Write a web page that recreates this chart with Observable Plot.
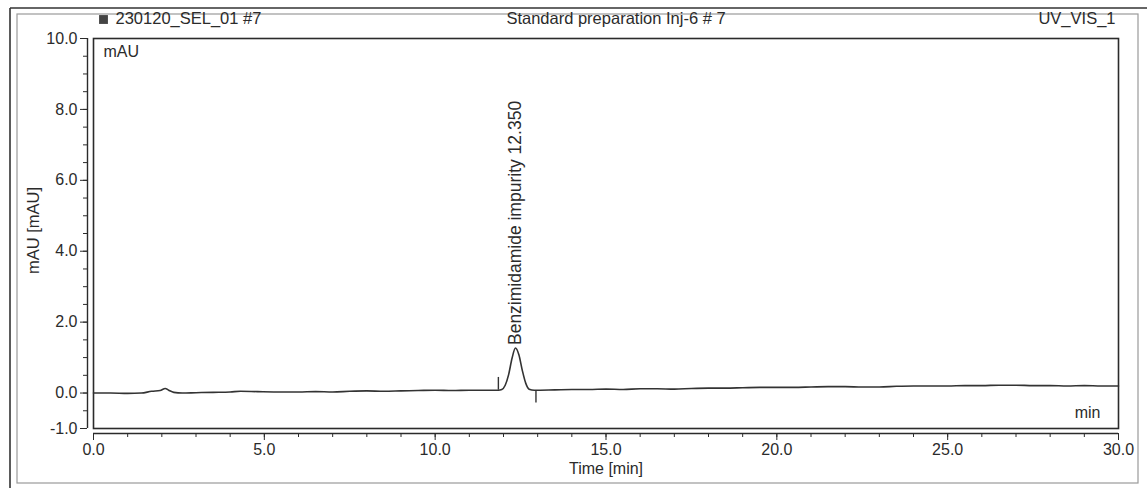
<!DOCTYPE html>
<html><head><meta charset="utf-8">
<script src="https://cdn.jsdelivr.net/npm/d3@7"></script>
<script src="https://cdn.jsdelivr.net/npm/@observablehq/plot@0.6"></script>
<style>html,body{margin:0;padding:0;background:#fff}#chart svg{display:block}</style>
</head><body><div id="chart"></div>
<script>
// ---- data ----
const headerLeft = "230120_SEL_01 #7";
const headerCenter = "Standard preparation Inj-6 # 7";
const headerRight = "UV_VIS_1";
const yLabel = "mAU [mAU]";
const xLabel = "Time [min]";
const yUnit = "mAU";
const xUnit = "min";

const times = [0.0,0.5,1.0,1.4,1.7,1.95,2.1,2.2,2.35,2.6,3.0,3.5,4.0,4.3,4.8,5.5,6.0,6.5,7.0,7.5,8.0,8.5,9.0,9.5,10.0,10.5,11.0,11.5,11.85,11.95,12.05,12.15,12.25,12.35,12.45,12.55,12.65,12.75,12.9,13.5,14.0,14.5,15.0,15.5,16.0,16.5,17.0,17.5,18.0,18.5,19.0,19.5,20.0,20.5,21.0,21.5,22.0,22.5,23.0,23.5,24.0,24.5,25.0,25.5,26.0,26.5,27.0,27.5,28.0,28.5,29.0,29.5,30.0];
const signal = [0.00,0.00,-0.01,0.00,0.05,0.07,0.13,0.08,0.02,0.00,0.01,0.02,0.03,0.05,0.04,0.03,0.03,0.04,0.03,0.05,0.06,0.05,0.06,0.07,0.08,0.07,0.08,0.08,0.08,0.10,0.22,0.52,0.98,1.27,1.08,0.64,0.28,0.11,0.08,0.09,0.10,0.10,0.11,0.10,0.12,0.12,0.11,0.13,0.14,0.14,0.15,0.16,0.16,0.16,0.17,0.18,0.18,0.17,0.17,0.19,0.20,0.20,0.20,0.21,0.21,0.22,0.22,0.21,0.21,0.20,0.21,0.20,0.20];

const peakTimes = [12.35];
const peakHeights = [1.27];
const peakLabels = ["Benzimidamide impurity 12.350"];

const delimiterTimes = [11.85, 12.95];
const delimiterLow = [0.08, -0.28];
const delimiterHigh = [0.44, 0.07];

const yTickValues = [10, 8, 6, 4, 2, 0, -1];
const yMinorTicks = [-1,-0.5,0,0.5,1,1.5,2,2.5,3,3.5,4,4.5,5,5.5,6,6.5,7,7.5,8,8.5,9,9.5,10];
const xTickValues = [0, 5, 10, 15, 20, 25, 30];
const xMinorTicks = [0,1,2,3,4,5,6,7,8,9,10,11,12,13,14,15,16,17,18,19,20,21,22,23,24,25,26,27,28,29,30];

// ---- tables built from arrays ----
const trace = times.map((t, i) => ({t, v: signal[i]}));
const peaks = peakTimes.map((t, i) => ({t, v: peakHeights[i], label: peakLabels[i]}));
const delims = delimiterTimes.map((t, i) => ({t, lo: delimiterLow[i], hi: delimiterHigh[i]}));
const fmt = d3.formatLocale({decimal: ".", thousands: ",", grouping: [3], currency: ["", ""], minus: "-"}).format(".1f");

const ink = "#2b2b2b";
const chart = Plot.plot({
  width: 1147,
  height: 488,
  marginLeft: 93,
  marginRight: 29,
  marginTop: 38,
  marginBottom: 60,
  style: {fontFamily: "'Liberation Sans', Arial, sans-serif", fontSize: "16px", color: ink, background: "#fff", overflow: "visible"},
  x: {domain: [0, 30], axis: null},
  y: {domain: [-1, 10], axis: null},
  marks: [
    Plot.frame({stroke: ink, strokeWidth: 1.6}),
    // y axis (offset left of the frame)
    Plot.ruleX([0], {y1: -1, y2: 10, dx: -6, stroke: ink, strokeWidth: 1.4}),
    Plot.axisY(yMinorTicks, {anchor: "left", tickSize: 4, dx: -6, tickFormat: () => "", label: null, stroke: ink}),
    Plot.axisY(yTickValues, {anchor: "left", tickSize: 7, tickPadding: 3, dx: -6, tickFormat: fmt, label: null, stroke: ink, fontSize: 16}),
    // x axis (offset below the frame)
    Plot.ruleY([-1], {x1: 0, x2: 30, dy: 5, stroke: ink, strokeWidth: 1.4}),
    Plot.axisX(xMinorTicks, {anchor: "bottom", tickSize: 4, dy: 5, tickFormat: () => "", label: null, stroke: ink}),
    Plot.axisX(xTickValues, {anchor: "bottom", tickSize: 7, tickPadding: 3, dy: 5, tickFormat: fmt, label: null, stroke: ink, fontSize: 16}),
    // trace
    Plot.line(trace, {x: "t", y: "v", stroke: "#333", strokeWidth: 1.6, curve: "monotone-x"}),
    // peak delimiters
    Plot.ruleX(delims, {x: "t", y1: "lo", y2: "hi", stroke: "#333", strokeWidth: 1.4}),
    // peak label
    Plot.text(peaks, {x: "t", y: "v", text: "label", rotate: -90, textAnchor: "start", lineAnchor: "middle", dy: -3, fontSize: 17.5, fill: ink}),
    // unit labels inside frame
    Plot.text([yUnit], {frameAnchor: "top-left", dx: 10, dy: 7, textAnchor: "start", lineAnchor: "top", fontSize: 16, fill: ink}),
    Plot.text([xUnit], {frameAnchor: "bottom-right", dx: -18, dy: -11, textAnchor: "end", lineAnchor: "bottom", fontSize: 16, fill: ink}),
    // axis titles
    Plot.text([xLabel], {frameAnchor: "bottom", dy: 40, lineAnchor: "middle", textAnchor: "middle", fontSize: 16, fill: ink}),
    Plot.text([yLabel], {frameAnchor: "left", dx: -60, dy: -3, rotate: -90, textAnchor: "middle", lineAnchor: "middle", fontSize: 16.5, fill: ink}),
    // header row
    Plot.dot([0], {frameAnchor: "top-left", dx: 10, dy: -19, symbol: "square", r: 5, fill: "#444", stroke: "none"}),
    Plot.text([headerLeft], {frameAnchor: "top-left", dx: 22, dy: -20, textAnchor: "start", lineAnchor: "middle", fontSize: 16.5, fill: ink}),
    Plot.text([headerCenter], {frameAnchor: "top", dx: 10, dy: -20, textAnchor: "middle", lineAnchor: "middle", fontSize: 16.5, fill: ink}),
    Plot.text([headerRight], {frameAnchor: "top-right", dx: -3, dy: -20, textAnchor: "end", lineAnchor: "middle", fontSize: 16.5, fill: ink})
  ]
});

// decorative page borders
const svg = d3.select(chart);
const g = svg.insert("g", ":first-child").attr("fill", "none");
g.append("rect").attr("x", 17).attr("y", 14).attr("width", 1121).attr("height", 469).attr("stroke", "#9a9a9a").attr("stroke-width", 1.2);
g.append("line").attr("x1", 10).attr("x2", 1147).attr("y1", 8).attr("y2", 8).attr("stroke", "#333").attr("stroke-width", 1.6);
g.append("line").attr("x1", 10).attr("x2", 10).attr("y1", 8).attr("y2", 488).attr("stroke", "#333").attr("stroke-width", 1.6);

document.getElementById("chart").appendChild(chart);
</script>
</body></html>
